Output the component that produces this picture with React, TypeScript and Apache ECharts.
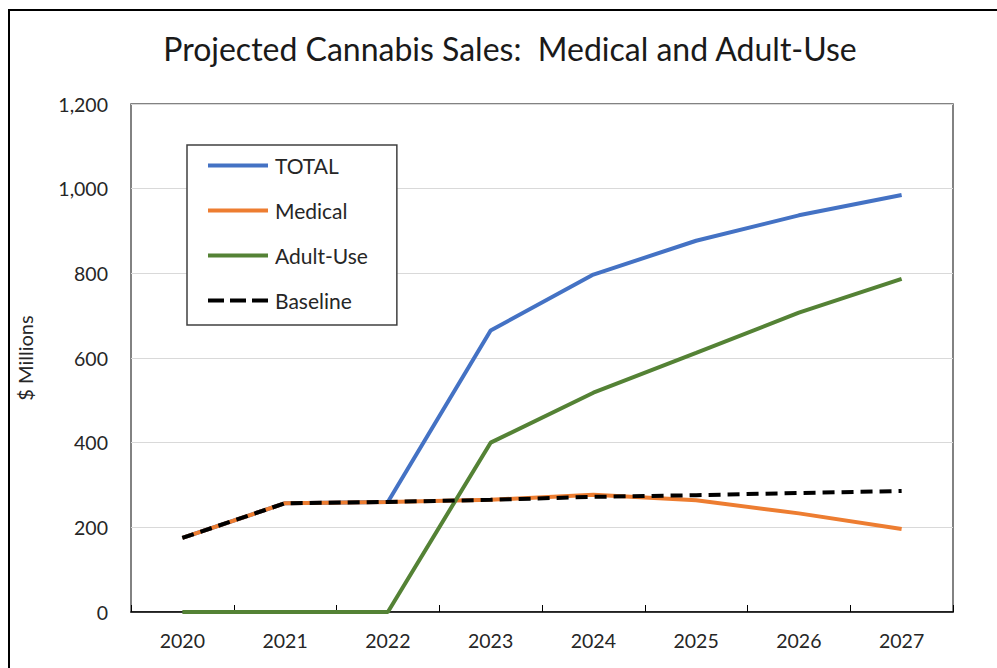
import React, { useEffect, useRef } from "react";
import * as echarts from "echarts";

const years = ["2020", "2021", "2022", "2023", "2024", "2025", "2026", "2027"];
const total = [175, 257, 260, 665, 797, 877, 937, 985];
const medical = [175, 257, 260, 265, 277, 264, 233, 196];
const adultUse = [0, 0, 0, 400, 518, 612, 707, 787];
const baseline = [175, 257, 260, 265, 272, 276, 281, 286];
const yTicks = { min: 0, max: 1200, interval: 200 };

const FONT = "Lato, 'Open Sans', sans-serif";
const SOLID_ICON = "path://M0,0H60V4H0Z";
const DASH_ICON = "path://M0,0H16V4H0Z M22,0H38V4H22Z M44,0H60V4H44Z";

export default function App() {
  const ref = useRef<HTMLDivElement>(null);
  useEffect(() => {
    if (!ref.current) return;
    const chart = echarts.init(ref.current, null, { renderer: "svg" });
    chart.setOption({
      animation: false,
      backgroundColor: "#ffffff",
      textStyle: { fontFamily: FONT },
      graphic: [
        {
          type: "rect",
          shape: { x: 9, y: 10, width: 1100, height: 800 },
          style: { fill: "none", stroke: "#000000", lineWidth: 2 },
          silent: true,
        },
        {
          type: "text",
          x: 510,
          y: 48,
          style: {
            text: "Projected Cannabis Sales:  Medical and Adult-Use",
            fontFamily: FONT,
            fontSize: 32,
            fill: "#1a1a1a",
            align: "center",
            verticalAlign: "middle",
          },
        },
      ],
      legend: {
        orient: "vertical",
        left: 187,
        top: 145,
        backgroundColor: "#ffffff",
        borderColor: "#404040",
        borderWidth: 1.5,
        padding: [10, 29, 14, 21],
        itemWidth: 60,
        itemHeight: 4,
        itemGap: 24,
        textStyle: { fontFamily: FONT, fontSize: 21, color: "#262626", padding: [0, 0, 0, 2] },
        data: [
          { name: "TOTAL", icon: SOLID_ICON },
          { name: "Medical", icon: SOLID_ICON },
          { name: "Adult-Use", icon: SOLID_ICON },
          { name: "Baseline", icon: DASH_ICON },
        ],
      },
      grid: {
        left: 131,
        top: 104,
        right: 44,
        bottom: 56,
        show: true,
        borderColor: "#595959",
        borderWidth: 1.5,
        containLabel: false,
      },
      xAxis: {
        type: "category",
        data: years,
        boundaryGap: true,
        axisLine: { show: true, lineStyle: { color: "#000000", width: 1.5 } },
        axisTick: { show: true, inside: true, length: 7, lineStyle: { color: "#000000", width: 1 } },
        axisLabel: { fontFamily: FONT, fontSize: 19.5, color: "#262626", margin: 18 },
        splitLine: { show: false },
      },
      yAxis: {
        type: "value",
        min: yTicks.min,
        max: yTicks.max,
        interval: yTicks.interval,
        name: "$ Millions",
        nameLocation: "middle",
        nameRotate: 90,
        nameGap: 96,
        nameTextStyle: { fontFamily: FONT, fontSize: 20, color: "#262626" },
        axisLine: { show: false },
        axisTick: { show: false },
        axisLabel: {
          fontFamily: FONT,
          fontSize: 19.5,
          color: "#262626",
          margin: 23,
          formatter: (v: number) => v.toLocaleString("en-US"),
        },
        splitLine: { lineStyle: { color: "#d9d9d9", width: 1 } },
      },
      series: [
        {
          name: "TOTAL",
          type: "line",
          data: total,
          symbol: "none",
          lineStyle: { color: "#4472C4", width: 4 },
          itemStyle: { color: "#4472C4" },
        },
        {
          name: "Medical",
          type: "line",
          data: medical,
          symbol: "none",
          lineStyle: { color: "#ED7D31", width: 4 },
          itemStyle: { color: "#ED7D31" },
        },
        {
          name: "Adult-Use",
          type: "line",
          data: adultUse,
          symbol: "none",
          lineStyle: { color: "#548235", width: 4 },
          itemStyle: { color: "#548235" },
        },
        {
          name: "Baseline",
          type: "line",
          data: baseline,
          symbol: "none",
          lineStyle: { color: "#000000", width: 4, type: [12, 7] },
          itemStyle: { color: "#000000" },
        },
      ],
    });
    return () => chart.dispose();
  }, []);
  return (
    <div
      ref={ref}
      style={{ position: "fixed", left: 0, top: 0, width: 997, height: 668 }}
    />
  );
}
